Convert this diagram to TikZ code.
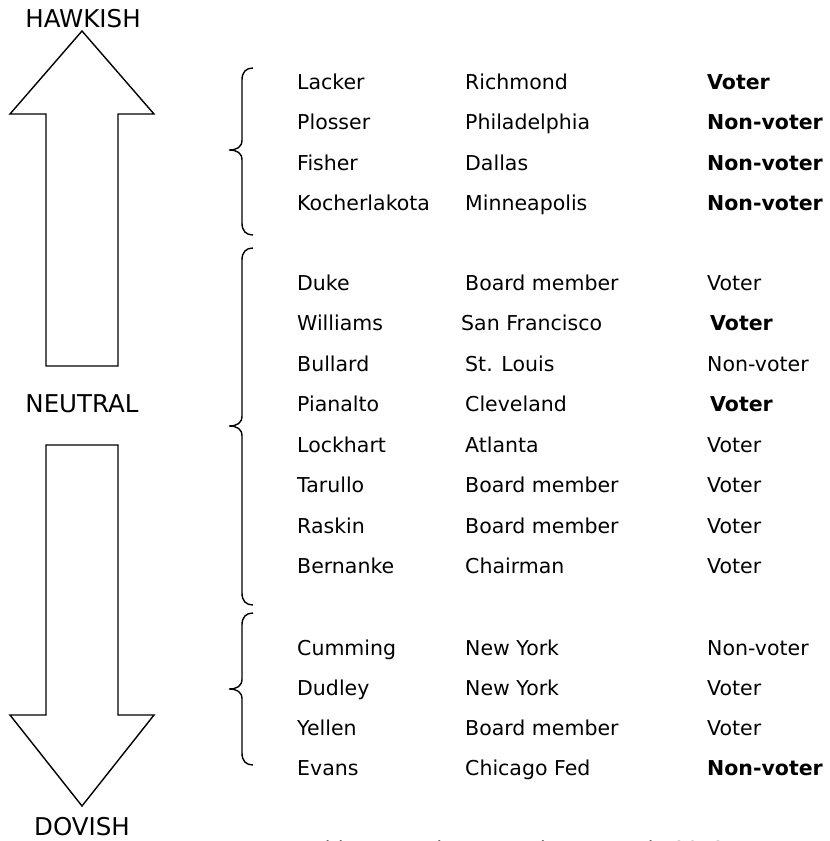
\documentclass[tikz,border=0pt]{standalone}
\usepackage{fontspec}
\setmainfont{DejaVu Sans}
\tikzset{
  lbl/.style={font=\fontsize{24.5}{28}\selectfont, inner sep=0pt, anchor=base},
  cell/.style={font=\fontsize{20.5}{24}\selectfont, inner sep=0pt, anchor=base west},
  bcell/.style={cell, font=\fontsize{20.5}{24}\selectfont\bfseries},
  bigarrow/.style={draw, line width=1.4pt, line join=miter},
  bracestyle/.style={draw, line width=1.4pt}
}
\newcommand\mybrace[3]{%
  \draw[bracestyle] (253,-#1) .. controls (246,-#1) and (242,-#1-4) .. (242,-#1-12)
    -- (242,-#2+10) .. controls (242,-#2+3) and (237,-#2) .. (229,-#2)
    .. controls (237,-#2) and (242,-#2-3) .. (242,-#2-10)
    -- (242,-#3+12) .. controls (242,-#3+4) and (246,-#3) .. (253,-#3);}
\begin{document}
\begin{tikzpicture}[x=1pt,y=1pt]
\useasboundingbox (0,0) rectangle (830,-841);
% labels
\node[lbl] (hawk) at (83,-27) {HAWKISH};
\node[lbl] (neut) at (82,-412) {NEUTRAL};
\node[lbl] (dove) at (82,-835) {DOVISH};
% arrows
\draw[bigarrow] (82,-31) -- (154,-114) -- (118,-114) -- (118,-366) -- (46,-366) -- (46,-114) -- (10,-114) -- cycle;
\draw[bigarrow] (46,-445) -- (118,-445) -- (118,-715) -- (154,-715) -- (82,-806) -- (10,-715) -- (46,-715) -- cycle;
% braces
\mybrace{68}{150}{235}
\mybrace{248}{426}{605}
\mybrace{613}{689}{765}
% group 1
\node[cell] (n1) at (297,-89) {Lacker};
\node[cell] (c1) at (465,-89) {Richmond};
\node[bcell] (v1) at (707,-89) {Voter};
\node[cell] (n2) at (297,-129) {Plosser};
\node[cell] (c2) at (465,-129) {Philadelphia};
\node[bcell] (v2) at (707,-129) {Non-voter};
\node[cell] (n3) at (297,-170) {Fisher};
\node[cell] (c3) at (465,-170) {Dallas};
\node[bcell] (v3) at (707,-170) {Non-voter};
\node[cell] (n4) at (297,-210) {Kocherlakota};
\node[cell] (c4) at (465,-210) {Minneapolis};
\node[bcell] (v4) at (707,-210) {Non-voter};
% group 2
\node[cell] (n5) at (297,-290) {Duke};
\node[cell] (c5) at (465,-290) {Board member};
\node[cell] (v5) at (707,-290) {Voter};
\node[cell] (n6) at (297,-330.5) {Williams};
\node[cell] (c6) at (461,-330.5) {San Francisco};
\node[bcell] (v6) at (710,-330.5) {Voter};
\node[cell] (n7) at (297,-371) {Bullard};
\node[cell] (c7) at (465,-371) {St. Louis};
\node[cell] (v7) at (707,-371) {Non-voter};
\node[cell] (n8) at (297,-411.5) {Pianalto};
\node[cell] (c8) at (465,-411.5) {Cleveland};
\node[bcell] (v8) at (710,-411.5) {Voter};
\node[cell] (n9) at (297,-452) {Lockhart};
\node[cell] (c9) at (465,-452) {Atlanta};
\node[cell] (v9) at (707,-452) {Voter};
\node[cell] (n10) at (297,-492.5) {Tarullo};
\node[cell] (c10) at (465,-492.5) {Board member};
\node[cell] (v10) at (707,-492.5) {Voter};
\node[cell] (n11) at (297,-533) {Raskin};
\node[cell] (c11) at (465,-533) {Board member};
\node[cell] (v11) at (707,-533) {Voter};
\node[cell] (n12) at (297,-573.5) {Bernanke};
\node[cell] (c12) at (465,-573.5) {Chairman};
\node[cell] (v12) at (707,-573.5) {Voter};
% group 3
\node[cell] (n13) at (297,-655) {Cumming};
\node[cell] (c13) at (465,-655) {New York};
\node[cell] (v13) at (707,-655) {Non-voter};
\node[cell] (n14) at (297,-695) {Dudley};
\node[cell] (c14) at (465,-695) {New York};
\node[cell] (v14) at (707,-695) {Voter};
\node[cell] (n15) at (297,-735) {Yellen};
\node[cell] (c15) at (465,-735) {Board member};
\node[cell] (v15) at (707,-735) {Voter};
\node[cell] (n16) at (297,-775) {Evans};
\node[cell] (c16) at (465,-775) {Chicago Fed};
\node[bcell] (v16) at (707,-775) {Non-voter};
% note, cut by the page edge as in the reference
\node[cell] (note) at (298,-856) {Bold names change voting status in 2012};
\end{tikzpicture}
\end{document}
